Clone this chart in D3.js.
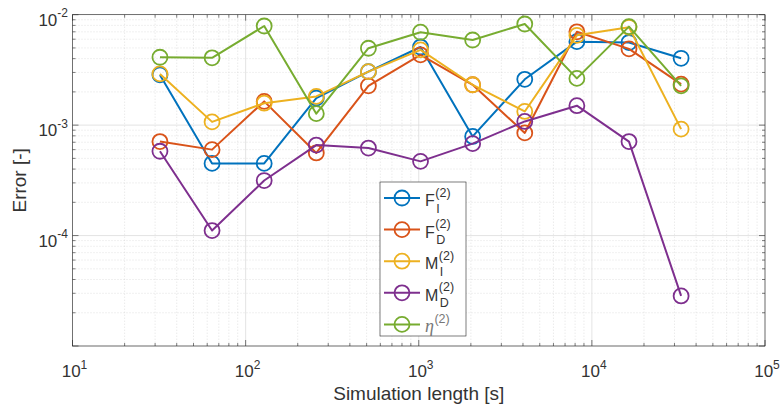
<!DOCTYPE html>
<html>
<head>
<meta charset="utf-8">
<script src="https://cdn.jsdelivr.net/npm/d3@7"></script>
<style>
  html, body { margin: 0; padding: 0; background: #fff; }
  svg { display: block; font-family: "Liberation Sans", Arial, Helvetica, sans-serif; }
</style>
</head>
<body>
<svg id="chart" width="781" height="412"></svg>
<script>
// Simulation lengths [s]
const lengths = [32, 64, 128, 256, 512, 1024, 2048, 4096, 8192, 16384, 32768];

// Error series
const errFI  = [2.85e-3, 4.5e-4, 4.5e-4, 1.76e-3, 3.05e-3, 5.1e-3, 7.9e-4, 2.6e-3, 5.7e-3, 5.6e-3, 4.03e-3];
const errFD  = [7.1e-4, 6.0e-4, 1.64e-3, 5.6e-4, 2.27e-3, 4.33e-3, 2.32e-3, 8.5e-4, 7.0e-3, 4.9e-3, 2.35e-3];
const errMI  = [2.91e-3, 1.07e-3, 1.58e-3, 1.82e-3, 3.05e-3, 4.8e-3, 2.32e-3, 1.33e-3, 6.5e-3, 7.7e-3, 9.2e-4];
const errMD  = [5.8e-4, 1.11e-4, 3.15e-4, 6.6e-4, 6.2e-4, 4.7e-4, 6.8e-4, 1.08e-3, 1.5e-3, 7.1e-4, 2.84e-5];
const errEta = [4.12e-3, 4.07e-3, 7.9e-3, 1.27e-3, 4.97e-3, 6.94e-3, 5.9e-3, 8.24e-3, 2.65e-3, 7.8e-3, 2.27e-3];

// Legend: base symbol, subscript, superscript
const seriesNames = [
  { base: "F", sub: "I", sup: "(2)" },
  { base: "F", sub: "D", sup: "(2)" },
  { base: "M", sub: "I", sup: "(2)" },
  { base: "M", sub: "D", sup: "(2)" },
  { base: "\u03b7", sub: "", sup: "(2)", italic: true }
];
const seriesColors = ["#0072BD", "#D95319", "#EDB120", "#7E2F8E", "#77AC30"];
const seriesValues = [errFI, errFD, errMI, errMD, errEta];

// Axis ticks (exponents of ten)
const xTickExps = [1, 2, 3, 4, 5];
const yTickExps = [-4, -3, -2];

const svg = d3.select("#chart");
const plot = { left: 72.5, right: 765, top: 14.7, bottom: 346 };

const x = d3.scaleLog().domain([1e1, 1e5]).range([plot.left, plot.right]);
const y = d3.scaleLog().domain([1e-5, 1e-2]).range([plot.bottom, plot.top]);

const axisColor = "#262626";
const textColor = "#333333";

// Minor and major tick positions
function minorValues(lo, hi) {
  const v = [];
  for (let e = lo; e < hi; e++) for (let k = 2; k <= 9; k++) v.push(k * Math.pow(10, e));
  return v;
}
const xMinor = minorValues(1, 5);
const yMinor = minorValues(-5, -2);
const xMajor = d3.range(1, 6).map(e => Math.pow(10, e));
const yMajor = d3.range(-5, -1).map(e => Math.pow(10, e));

// Grid
const grid = svg.append("g");
grid.selectAll(".xmin").data(xMinor).join("line")
  .attr("x1", d => x(d)).attr("x2", d => x(d))
  .attr("y1", plot.top).attr("y2", plot.bottom)
  .attr("stroke", "#cfcfcf").attr("stroke-width", 0.6).attr("stroke-dasharray", "1,2");
grid.selectAll(".ymin").data(yMinor).join("line")
  .attr("y1", d => y(d)).attr("y2", d => y(d))
  .attr("x1", plot.left).attr("x2", plot.right)
  .attr("stroke", "#cfcfcf").attr("stroke-width", 0.6).attr("stroke-dasharray", "1,2");
grid.selectAll(".xmaj").data(xMajor).join("line")
  .attr("x1", d => x(d)).attr("x2", d => x(d))
  .attr("y1", plot.top).attr("y2", plot.bottom)
  .attr("stroke", "#dcdcdc").attr("stroke-width", 0.8);
grid.selectAll(".ymaj").data(yMajor).join("line")
  .attr("y1", d => y(d)).attr("y2", d => y(d))
  .attr("x1", plot.left).attr("x2", plot.right)
  .attr("stroke", "#dcdcdc").attr("stroke-width", 0.8);

// Axes with inward ticks on all four sides
function drawTicks(g, vals, len, orient) {
  g.selectAll(null).data(vals).join("line").each(function (d) {
    const s = d3.select(this);
    if (orient === "bottom") s.attr("x1", x(d)).attr("x2", x(d)).attr("y1", plot.bottom).attr("y2", plot.bottom - len);
    if (orient === "top") s.attr("x1", x(d)).attr("x2", x(d)).attr("y1", plot.top).attr("y2", plot.top + len);
    if (orient === "left") s.attr("y1", y(d)).attr("y2", y(d)).attr("x1", plot.left).attr("x2", plot.left + len);
    if (orient === "right") s.attr("y1", y(d)).attr("y2", y(d)).attr("x1", plot.right).attr("x2", plot.right - len);
  }).attr("stroke", axisColor).attr("stroke-width", 0.6);
}
const axes = svg.append("g");
["bottom", "top"].forEach(o => { drawTicks(axes, xMajor, 6, o); drawTicks(axes, xMinor, 3, o); });
["left", "right"].forEach(o => { drawTicks(axes, yMajor, 6, o); drawTicks(axes, yMinor, 3, o); });
axes.append("rect")
  .attr("x", plot.left).attr("y", plot.top)
  .attr("width", plot.right - plot.left).attr("height", plot.bottom - plot.top)
  .attr("fill", "none").attr("stroke", axisColor).attr("stroke-width", 0.6);

// Tick labels: 10 with superscript exponent
const xl = svg.append("g").attr("fill", textColor);
xTickExps.forEach(e => {
  const t = xl.append("text").attr("x", x(Math.pow(10, e)) + 2).attr("y", 377)
    .attr("text-anchor", "middle").attr("font-size", 17);
  t.append("tspan").text("10");
  t.append("tspan").attr("dy", -8.5).attr("font-size", 12).text(String(e));
});
const yl = svg.append("g").attr("fill", textColor);
yTickExps.forEach(e => {
  const t = yl.append("text").attr("x", 68).attr("y", y(Math.pow(10, e)) + 11)
    .attr("text-anchor", "end").attr("font-size", 17);
  t.append("tspan").text("10");
  t.append("tspan").attr("dy", -8.5).attr("font-size", 12).text(String(e));
});

// Axis titles
svg.append("text").attr("x", (plot.left + plot.right) / 2).attr("y", 400)
  .attr("text-anchor", "middle").attr("font-size", 19).attr("fill", textColor)
  .text("Simulation length [s]");
svg.append("text").attr("transform", `translate(26,${(plot.top + plot.bottom) / 2}) rotate(-90)`)
  .attr("text-anchor", "middle").attr("font-size", 19).attr("fill", textColor)
  .text("Error [-]");

// Series: lines with open circle markers
const line = d3.line().x(d => x(d[0])).y(d => y(d[1]));
const series = svg.append("g");
seriesValues.forEach((vals, i) => {
  const pts = lengths.map((L, j) => [L, vals[j]]);
  const g = series.append("g");
  g.append("path").datum(pts).attr("d", line)
    .attr("fill", "none").attr("stroke", seriesColors[i]).attr("stroke-width", 2)
    .attr("stroke-linejoin", "round");
  g.selectAll("circle").data(pts).join("circle")
    .attr("cx", d => x(d[0])).attr("cy", d => y(d[1])).attr("r", 7.5)
    .attr("fill", "none").attr("stroke", seriesColors[i]).attr("stroke-width", 1.8);
});

// Legend
const lg = svg.append("g");
lg.append("rect").attr("x", 380).attr("y", 182).attr("width", 86).attr("height", 154)
  .attr("fill", "#fff").attr("stroke", axisColor).attr("stroke-width", 0.6);
seriesNames.forEach((s, i) => {
  const cy = 198 + i * 31.6;
  lg.append("line").attr("x1", 384).attr("x2", 420).attr("y1", cy).attr("y2", cy)
    .attr("stroke", seriesColors[i]).attr("stroke-width", 2);
  lg.append("circle").attr("cx", 402).attr("cy", cy).attr("r", 7.5)
    .attr("fill", "none").attr("stroke", seriesColors[i]).attr("stroke-width", 1.8);
  const base = lg.append("text").attr("x", 425).attr("y", cy + 8)
    .attr("font-size", 16).attr("fill", textColor).text(s.base);
  if (s.italic) base.attr("font-family", "'Liberation Serif', 'DejaVu Serif', serif").attr("font-style", "italic").attr("font-size", 18).attr("fill", "#777");
  const bw = base.node().getComputedTextLength();
  lg.append("text").attr("x", 425 + bw + 0.5).attr("y", cy - 1.5)
    .attr("font-size", 12.5).attr("fill", s.italic ? "#777" : textColor).text(s.sup);
  if (s.sub) {
    lg.append("text").attr("x", 425 + bw + 1.5).attr("y", cy + 14.5)
      .attr("font-size", 12.5).attr("fill", textColor).text(s.sub);
  }
});
</script>
</body>
</html>
